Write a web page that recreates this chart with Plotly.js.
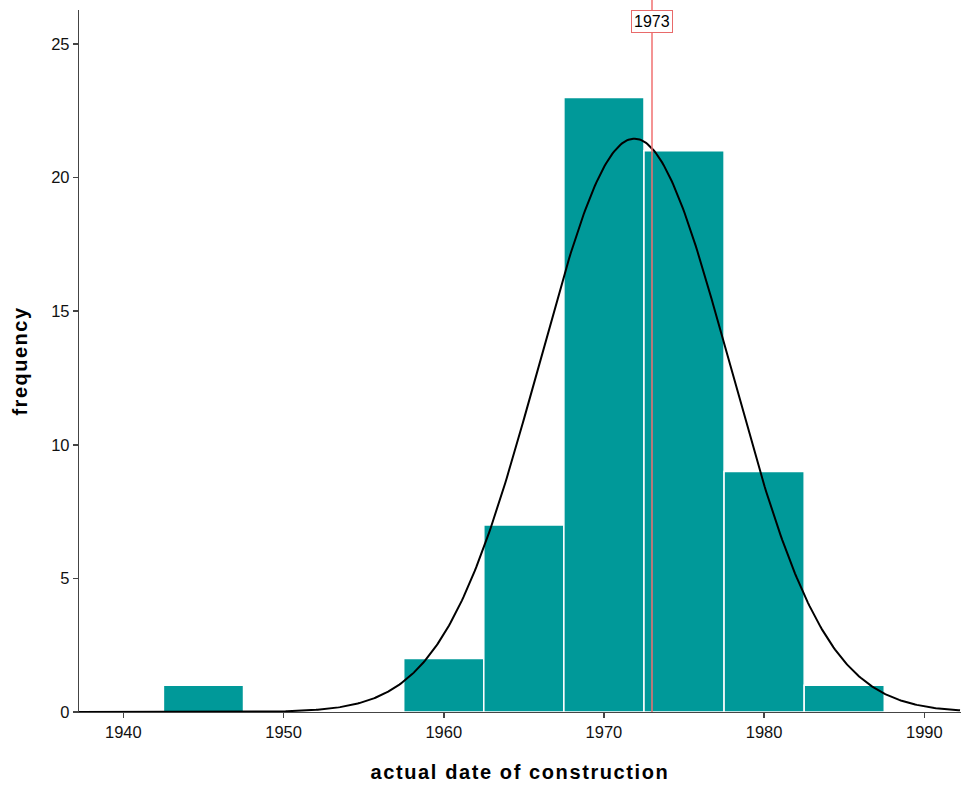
<!DOCTYPE html>
<html>
<head>
<meta charset="utf-8">
<script src="https://cdn.plot.ly/plotly-3.0.1.min.js"></script>
<style>
html,body{margin:0;padding:0;background:#fff;}
#chart{width:961px;height:785px;}
.g-xtitle text{letter-spacing:1.6px;}
.g-ytitle text{letter-spacing:1.5px;}
</style>
</head>
<body>
<div id="chart"></div>
<script>
// Histogram bins (centres, width 5) and counts
const binCenters = [1945, 1960, 1965, 1970, 1975, 1980, 1985];
const binCounts = [1, 2, 7, 23, 21, 9, 1];
const binWidth = 5;
// Fitted normal curve parameters
const fitMean = 1971.9;
const fitSD = 5.95;
const fitN = 64;
// Reference line
const refLineX = 1973;
const refLineLabel = '1973';
const xTicks = [1940, 1950, 1960, 1970, 1980, 1990];
const yTicks = [0, 5, 10, 15, 20, 25];

const xRange = [1937.23, 1992.29];
const yRange = [0, 26.27];

const curveX = [], curveY = [];
for (let x = xRange[0]; x <= xRange[1] + 1e-9; x += 0.1) {
  curveX.push(x);
  const z = (x - fitMean) / fitSD;
  curveY.push(fitN * binWidth / (fitSD * Math.sqrt(2 * Math.PI)) * Math.exp(-0.5 * z * z));
}

const data = [
  {
    type: 'bar', x: binCenters, y: binCounts, width: binWidth,
    marker: {color: '#009999', line: {color: '#ffffff', width: 1.5}},
    hoverinfo: 'x+y', showlegend: false
  },
  {
    type: 'scatter', mode: 'lines', x: curveX, y: curveY,
    line: {color: '#000000', width: 2}, hoverinfo: 'skip', showlegend: false
  }
];

const layout = {
  width: 961, height: 785,
  margin: {l: 79, r: 0, t: 10, b: 73},
  paper_bgcolor: '#ffffff', plot_bgcolor: '#ffffff',
  font: {family: 'Liberation Sans, Arial, sans-serif', color: '#000', size: 16},
  bargap: 0,
  xaxis: {
    range: xRange, tickvals: xTicks, ticktext: xTicks.map(String),
    showgrid: false, zeroline: false, showline: true, linecolor: '#444', linewidth: 1.2,
    ticks: 'outside', ticklen: 5, tickcolor: '#444', tickwidth: 1.5,
    tickfont: {size: 16.5, color: '#111'},
    title: {text: '<b>actual date of construction</b>', font: {size: 20, color: '#000'}, standoff: 25}
  },
  yaxis: {
    range: yRange, tickvals: yTicks, ticktext: yTicks.map(String),
    showgrid: false, zeroline: false, showline: true, linecolor: '#444', linewidth: 1.2,
    ticks: 'outside', ticklen: 5, tickcolor: '#444', tickwidth: 1.5,
    tickfont: {size: 16.5, color: '#111'},
    title: {text: '<b>frequency</b>', font: {size: 20, color: '#000'}, standoff: 18}
  },
  shapes: [{
    type: 'line', xref: 'x', yref: 'paper', x0: refLineX, x1: refLineX, y0: 0, y1: 1.015,
    line: {color: '#f07070', width: 1.5}, layer: 'above'
  }],
  annotations: [{
    xref: 'x', yref: 'paper', x: refLineX, y: 1, xanchor: 'center', yanchor: 'top',
    text: refLineLabel, showarrow: false, bgcolor: '#ffffff',
    bordercolor: '#e86a6a', borderwidth: 1, borderpad: 2,
    font: {size: 16, color: '#000'}
  }]
};

Plotly.newPlot('chart', data, layout, {displayModeBar: false, staticPlot: true});
</script>
</body>
</html>
